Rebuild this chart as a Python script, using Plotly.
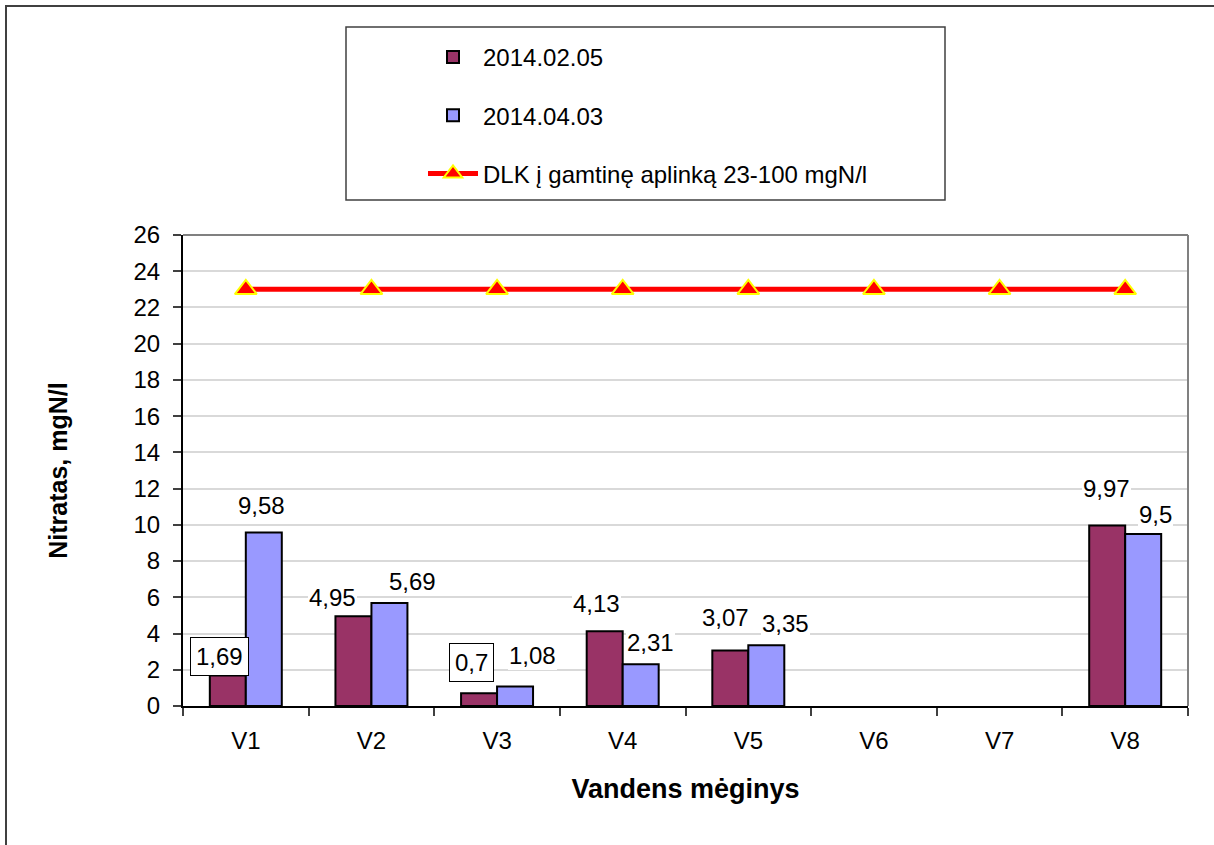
import plotly.graph_objects as go

# ---- data ----
categories = ["V1", "V2", "V3", "V4", "V5", "V6", "V7", "V8"]
series1_name = "2014.02.05"
series1 = [1.69, 4.95, 0.7, 4.13, 3.07, None, None, 9.97]
series2_name = "2014.04.03"
series2 = [9.58, 5.69, 1.08, 2.31, 3.35, None, None, 9.5]
limit_name = "DLK į gamtinę aplinką 23-100 mgN/l"
limit = [23, 23, 23, 23, 23, 23, 23, 23]
y_ticks = [0, 2, 4, 6, 8, 10, 12, 14, 16, 18, 20, 22, 24, 26]
x_title = "Vandens mėginys"
y_title = "Nitratas, mgN/l"

# ---- label placement (style only, px offsets from bar top-centre) ----
label_dx1 = [-8, -21, -8, -8, -5, 0, 0, -1]
label_dy1 = [19, 19, 31, 28, 33, 0, 0, 37]
label_box1 = [True, False, True, False, False, False, False, False]
label_dx2 = [-2, 23, 17, 10, 19, 0, 0, 12]
label_dy2 = [27, 21, 31, 22, 22, 0, 0, 19]
label_box2 = [False] * 8

FONT = "Liberation Sans, Arial, sans-serif"
MAROON = "#993366"
BLUE = "#9999FF"

L, R, T, B = 183, 26, 235, 139
W, H = 1214, 845
PW = W - L - R
PH = H - T - B

fig = go.Figure()
fig.add_trace(go.Bar(
    x=categories, y=series1, name=series1_name, legendgroup="a",
    marker=dict(color=MAROON, line=dict(color="black", width=2)),
))
fig.add_trace(go.Bar(
    x=categories, y=series2, name=series2_name, legendgroup="b",
    marker=dict(color=BLUE, line=dict(color="black", width=2)),
))
fig.add_trace(go.Scatter(
    x=categories, y=limit, name=limit_name, legendgroup="c", mode="lines+markers",
    line=dict(color="#FF0000", width=5),
    marker=dict(symbol="triangle-up", size=19, color="#FF0000",
                line=dict(color="#FFFF00", width=2)),
))

def fmt(v):
    return f"{v:g}".replace(".", ",")

bar_px = PW / len(categories) * (1 - 0.427) / 2
annotations = []
for vals, dxs, dys, boxes, side in [
    (series1, label_dx1, label_dy1, label_box1, -1),
    (series2, label_dx2, label_dy2, label_box2, 1),
]:
    for c, v, dx, dy, bx in zip(categories, vals, dxs, dys, boxes):
        if v is None:
            continue
        annotations.append(dict(
            x=c, y=v, xref="x", yref="y", text=fmt(v), showarrow=False,
            xanchor="center", yanchor="middle",
            xshift=side * bar_px / 2 + dx, yshift=dy,
            font=dict(family=FONT, size=24, color="black"),
            bgcolor="white",
            bordercolor="black" if bx else "rgba(0,0,0,0)",
            borderwidth=1 if bx else 0,
            borderpad=5 if bx else 1,
        ))

def px_to_paper_x(px):
    return (px - L) / PW

def px_to_paper_y(py):
    return 1 - (py - T) / PH

shapes = [
    # outer chart border
    dict(type="rect", xref="paper", yref="paper",
         x0=px_to_paper_x(6), x1=px_to_paper_x(1240),
         y0=px_to_paper_y(880), y1=px_to_paper_y(6),
         line=dict(color="#404040", width=2), layer="below"),
    # legend box
    dict(type="rect", xref="paper", yref="paper",
         x0=px_to_paper_x(346), x1=px_to_paper_x(945),
         y0=px_to_paper_y(200), y1=px_to_paper_y(27),
         line=dict(color="#404040", width=1.5), fillcolor="white", layer="below"),
    # plot area top & right edges
    dict(type="line", xref="paper", yref="paper", x0=0, x1=1, y0=1, y1=1,
         line=dict(color="#808080", width=2)),
    dict(type="line", xref="paper", yref="paper", x0=1, x1=1, y0=0, y1=1,
         line=dict(color="#808080", width=2)),
]

fig.update_layout(
    width=W, height=H,
    margin=dict(l=L, r=R, t=T, b=B),
    paper_bgcolor="white", plot_bgcolor="white",
    font=dict(family=FONT, size=24, color="black"),
    barmode="group", bargap=0.427, bargroupgap=0,
    showlegend=True,
    legend=dict(
        x=px_to_paper_x(423), y=px_to_paper_y(35), xanchor="left", yanchor="top",
        bgcolor="rgba(0,0,0,0)", borderwidth=0,
        font=dict(family=FONT, size=24, color="black"),
        itemwidth=50, tracegroupgap=24, traceorder="grouped",
    ),
    annotations=annotations,
    shapes=shapes,
    xaxis=dict(
        type="category", categoryorder="array", categoryarray=categories,
        showline=True, linecolor="black", linewidth=2,
        ticks="outside", tickson="boundaries", ticklen=8, tickwidth=2, tickcolor="#404040",
        showgrid=False, tickfont=dict(family=FONT, size=24),
        ticklabelstandoff=12,
        title=dict(text=x_title, font=dict(family=FONT, size=27, weight="bold"), standoff=26),
    ),
    yaxis=dict(
        range=[0, 26], tickvals=y_ticks,
        showline=True, linecolor="black", linewidth=2,
        ticks="outside", ticklen=8, tickwidth=2, tickcolor="#404040",
        gridcolor="#D9D9D9", gridwidth=2, zeroline=False,
        tickfont=dict(family=FONT, size=24), ticklabelstandoff=8,
        title=dict(text=y_title, font=dict(family=FONT, size=25, weight="bold"), standoff=59),
    ),
)

fig.write_html(
    "out.html",
    config={"displayModeBar": False},
    post_script="document.body.style.margin='0';document.body.style.overflow='hidden';",
)
